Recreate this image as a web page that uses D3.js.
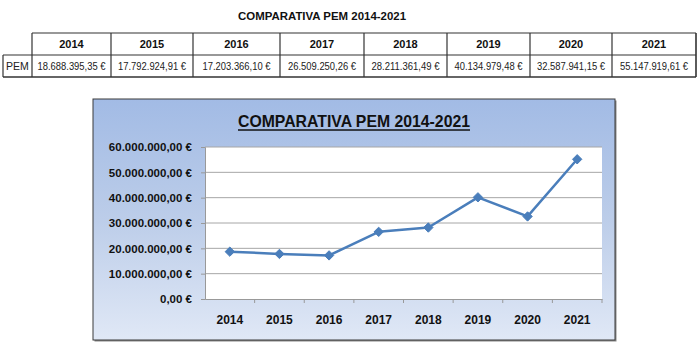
<!DOCTYPE html>
<html><head><meta charset="utf-8">
<script src="https://cdn.jsdelivr.net/npm/d3@7"></script>
<style>body{margin:0;background:#fff}svg{display:block}</style>
</head><body>
<svg id="c" width="700" height="345"></svg>
<script>
const title = "COMPARATIVA PEM 2014-2021";
const rowLabel = "PEM";
const years = ["2014","2015","2016","2017","2018","2019","2020","2021"];
const values = [18688395.35,17792924.91,17203366.10,26509250.26,28211361.49,40134979.48,32587941.15,55147919.61];
const yTicks = [0,10000000,20000000,30000000,40000000,50000000,60000000];

const fmtEur = v => {
  const s = v.toFixed(2).split(".");
  return s[0].replace(/\B(?=(\d{3})+(?!\d))/g, ".") + "," + s[1] + " €";
};

const svg = d3.select("#c");
const F = "'Liberation Sans', Arial, sans-serif";

// ---- Table ----
svg.append("text").attr("x",322).attr("y",20).attr("text-anchor","middle")
  .attr("font-family",F).attr("font-weight","bold").attr("font-size",11.5).attr("fill","#111")
  .attr("textLength",168).attr("lengthAdjust","spacingAndGlyphs")
  .text(title);

const colEdges = [3,32,111,193,280,364,447,530,612,696];
const rowTop = 33, rowMid = 55, rowBot = 77;
const tg = svg.append("g").attr("stroke","#333").attr("stroke-width",1.2).attr("fill","none");
tg.append("line").attr("x1",32).attr("x2",696).attr("y1",rowTop).attr("y2",rowTop);
tg.append("line").attr("x1",3).attr("x2",696).attr("y1",rowMid).attr("y2",rowMid);
tg.append("line").attr("x1",3).attr("x2",696).attr("y1",rowBot).attr("y2",rowBot).attr("stroke-width",1.6);
tg.append("line").attr("x1",3).attr("x2",3).attr("y1",rowMid).attr("y2",rowBot);
years.forEach((y,i)=>{
  const x0 = colEdges[i+1];
  tg.append("line").attr("x1",x0).attr("x2",x0).attr("y1",rowTop).attr("y2",rowBot);
});
tg.append("line").attr("x1",696).attr("x2",696).attr("y1",rowTop).attr("y2",rowBot).attr("stroke-width",1.6);

svg.append("text").attr("x",17.5).attr("y",70).attr("text-anchor","middle")
  .attr("font-family",F).attr("font-size",10.5).attr("fill","#222").text(rowLabel);
years.forEach((y,i)=>{
  const cx = (colEdges[i+1]+colEdges[i+2])/2;
  svg.append("text").attr("x",cx).attr("y",48).attr("text-anchor","middle")
    .attr("font-family",F).attr("font-weight","bold").attr("font-size",11).attr("fill","#111").text(y);
  svg.append("text").attr("x",cx).attr("y",70).attr("text-anchor","middle")
    .attr("font-family",F).attr("font-size",10.5).attr("fill","#222")
    .attr("textLength",68).attr("lengthAdjust","spacingAndGlyphs").text(fmtEur(values[i]));
});

// ---- Chart ----
const defs = svg.append("defs");
const gr = defs.append("linearGradient").attr("id","bg").attr("x1","0").attr("y1","0").attr("x2","0").attr("y2","1");
gr.append("stop").attr("offset","0").attr("stop-color","#a2bbe5");
gr.append("stop").attr("offset","0.5").attr("stop-color","#bccde9");
gr.append("stop").attr("offset","1").attr("stop-color","#e0e8f6");

const box = {x:93, y:99, w:522, h:241};
svg.append("rect").attr("x",box.x+1.5).attr("y",box.y+1.5).attr("width",box.w).attr("height",box.h).attr("fill","#888");
svg.append("rect").attr("x",box.x).attr("y",box.y).attr("width",box.w).attr("height",box.h)
  .attr("fill","url(#bg)").attr("stroke","#3a3a3a").attr("stroke-width",1);

svg.append("text").attr("x",box.x+box.w/2).attr("y",127).attr("text-anchor","middle")
  .attr("font-family",F).attr("font-weight","bold").attr("font-size",16.5).attr("fill","#111")
  .attr("textLength",232).attr("lengthAdjust","spacingAndGlyphs").text(title);
svg.append("line").attr("x1",box.x+box.w/2-116).attr("x2",box.x+box.w/2+116).attr("y1",130).attr("y2",130)
  .attr("stroke","#111").attr("stroke-width",1.3);

const plot = {l:205, r:602, t:147, b:299};
svg.append("rect").attr("x",plot.l).attr("y",plot.t).attr("width",plot.r-plot.l).attr("height",plot.b-plot.t).attr("fill","#fff");

const x = d3.scaleBand().domain(years).range([plot.l,plot.r]);
const y = d3.scaleLinear().domain([0,60000000]).range([plot.b,plot.t]);

// gridlines
svg.append("g").selectAll("line").data(yTicks.filter(d=>d>0)).join("line")
  .attr("x1",plot.l).attr("x2",plot.r).attr("y1",d=>y(d)).attr("y2",d=>y(d))
  .attr("stroke","#a6a6a6").attr("stroke-width",1);

// y axis
const ya = svg.append("g").attr("transform",`translate(${plot.l},0)`)
  .call(d3.axisLeft(y).tickValues(yTicks).tickFormat(fmtEur).tickSize(4).tickPadding(9));
ya.select(".domain").attr("stroke","#999");
ya.selectAll(".tick line").attr("stroke","#999");
ya.selectAll("text").attr("font-family",F).attr("font-weight","bold").attr("font-size",11.5).attr("fill","#111");

// x axis
const xa = svg.append("g").attr("transform",`translate(0,${plot.b})`)
  .call(d3.axisBottom(x).tickSize(0).tickPadding(16));
xa.select(".domain").attr("stroke","#999");
xa.selectAll("text").attr("font-family",F).attr("font-weight","bold").attr("font-size",12).attr("fill","#111");
svg.append("g").selectAll("line").data(years.slice(1).concat(["end"])).join("line")
  .attr("x1",(d,i)=> i<years.length-1 ? x(d) : plot.r)
  .attr("x2",(d,i)=> i<years.length-1 ? x(d) : plot.r)
  .attr("y1",plot.b).attr("y2",plot.b+4).attr("stroke","#999");

// line
const pts = years.map((yr,i)=>({yr, v:values[i]}));
svg.append("path").datum(pts)
  .attr("d", d3.line().x(d=>x(d.yr)+x.bandwidth()/2).y(d=>y(d.v)))
  .attr("fill","none").attr("stroke","#4a7ebb").attr("stroke-width",2.5).attr("stroke-linejoin","round");
svg.append("g").selectAll("path").data(pts).join("path")
  .attr("transform",d=>`translate(${x(d.yr)+x.bandwidth()/2},${y(d.v)})`)
  .attr("d",d3.symbol(d3.symbolDiamond2,56)())
  .attr("fill","#4a7ebb").attr("stroke","#4a7ebb").attr("stroke-width",1);
</script>
</body></html>
